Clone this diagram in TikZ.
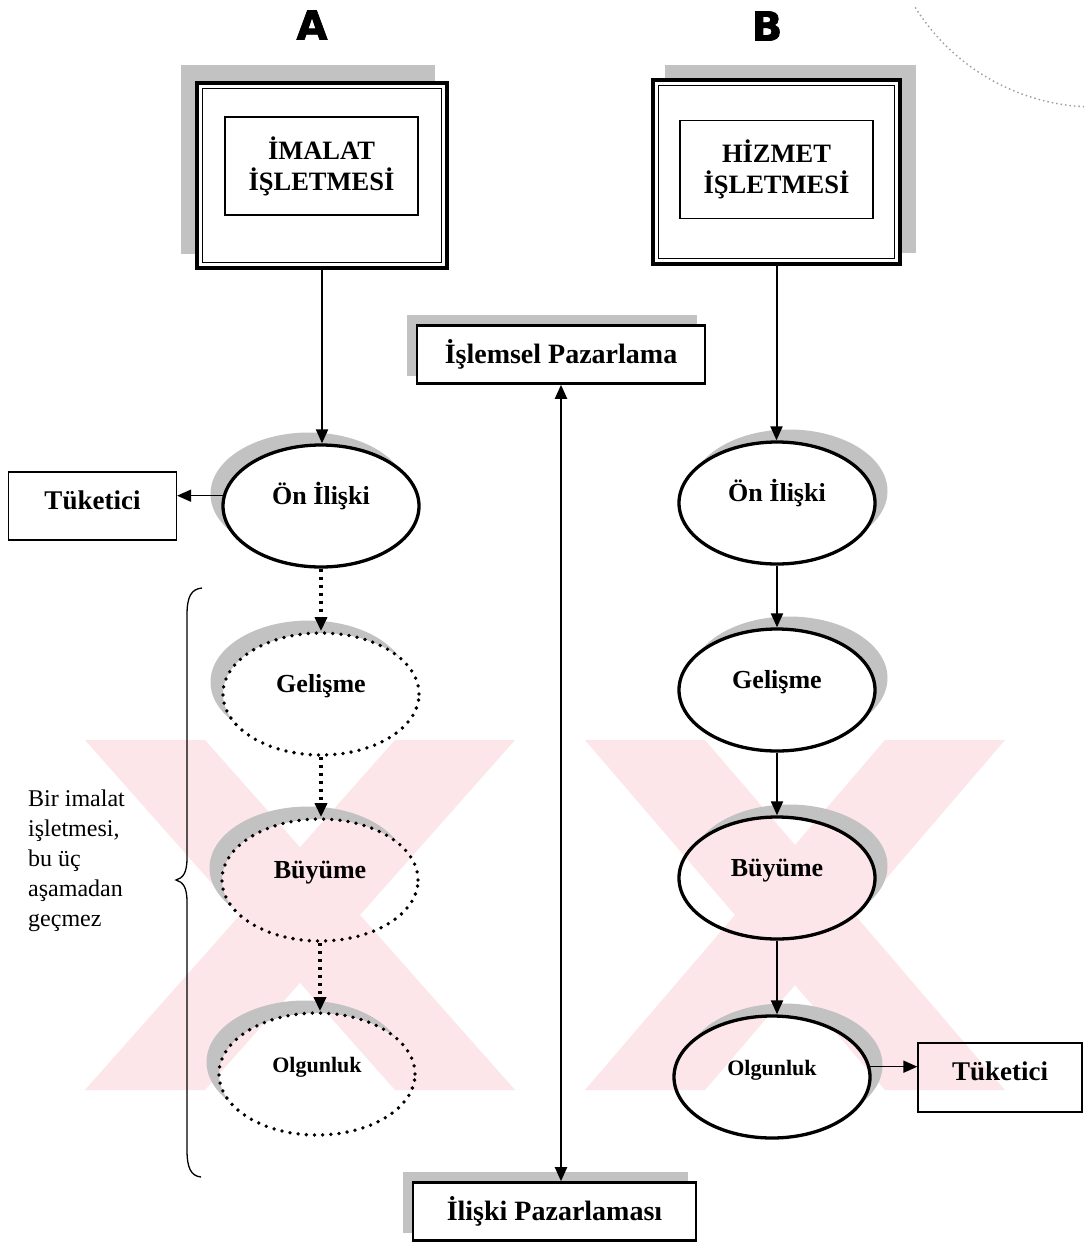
\documentclass[tikz,border=0pt]{standalone}
\usepackage{fontspec}
\setmainfont{Liberation Serif}
\newfontfamily\headfont[FakeBold=2]{DejaVu Sans}
\usetikzlibrary{arrows.meta,shapes.geometric,calc}

\definecolor{shadowc}{gray}{0.76}
\definecolor{wmark}{RGB}{252,230,233}
\definecolor{stampc}{gray}{0.62}

\pgfdeclarelayer{back}
\pgfsetlayers{back,main}

% crescent-shaped shadow behind an elliptic stage: node, x offset, y offset
\newcommand\stageshade[3]{%
  \begin{scope}
    \clip ($(#1.center)+(#2,#3)$) ellipse [x radius=98.5, y radius=61.5];
    \fill[shadowc, even odd rule]
      ($(#1.center)+(#2,#3)$) ellipse [x radius=101, y radius=64]
      (#1.center) ellipse [x radius=98, y radius=61];
  \end{scope}}

\tikzset{
  every node/.style={inner sep=0pt},
  tipTri/.style={-{Triangle[length=14pt,width=12pt]}},
  conn/.style={line width=2pt, tipTri},
  thinconn/.style={line width=1.5pt, tipTri},
  dotconn/.style={line width=3.4pt, dash pattern=on 3.4pt off 4.6pt, tipTri},
  stage/.style={ellipse, draw, line width=3.3pt, minimum width=196pt, minimum height=122pt,
    text height=16pt, text depth=20pt, font=\fontsize{26}{30}\selectfont\bfseries},
  dstage/.style={stage, line width=3.8pt, dash pattern=on 0pt off 8.2pt, line cap=round},
  smalltext/.style={font=\fontsize{22}{26}\selectfont\bfseries},
  frame/.style={draw, line width=3.2pt, fill=white, minimum width=250pt, minimum height=185pt},
  titlebox/.style={draw, line width=1.6pt, fill=white, minimum width=193pt, minimum height=98pt,
    align=center, font=\fontsize{26.5}{31}\selectfont\bfseries},
  mktbox/.style={draw, line width=2.6pt, fill=white, minimum height=58pt,
    font=\fontsize{28}{32}\selectfont\bfseries},
  consumer/.style={draw, line width=1.2pt, minimum width=168pt, minimum height=68pt,
    text depth=12pt, font=\fontsize{27}{32}\selectfont\bfseries},
  colhead/.style={font=\headfont\fontsize{40}{40}\selectfont\bfseries},
}

\begin{document}
\begin{tikzpicture}[x=1pt,y=-1pt]
\useasboundingbox (0,0) rectangle (1084,1243);

% column headings
\node[colhead] (hA) at (312,25) {A};
\node[colhead] (hB) at (767,26) {B};

% the two kinds of firm
\node[frame] (imalat) at (322,175.5) {};
\node[titlebox] (imalatT) at (321.5,166) {İMALAT\\İŞLETMESİ};
\node[frame, minimum width=247pt, minimum height=184pt] (hizmet) at (776.5,172) {};
\node[titlebox] (hizmetT) at (776.5,169.5) {HİZMET\\İŞLETMESİ};
\foreach \f in {imalat,hizmet}
  \draw[line width=1.3pt] ([shift={(7,7)}]\f.north west) rectangle ([shift={(-7,-7)}]\f.south east);

% the two marketing approaches
\node[mktbox, minimum width=288pt] (islemsel) at (561,354.5) {İşlemsel Pazarlama};
\node[mktbox, minimum width=283pt] (iliski) at (554.5,1211.5) {İlişki Pazarlaması};

% stages, column A
\node[stage] (onL) at (321,506) {Ön İlişki};
\node[dstage] (gelL) at (321,694) {Gelişme};
\node[dstage] (buyL) at (320,880) {Büyüme};
\node[dstage, smalltext] (olgL) at (317,1074) {Olgunluk};

% stages, column B
\node[stage] (onR) at (777,503) {Ön İlişki};
\node[stage] (gelR) at (777,690) {Gelişme};
\node[stage] (buyR) at (777,878) {Büyüme};
\node[stage, smalltext] (olgR) at (772,1077) {Olgunluk};

% consumers
\node[consumer] (tL) at (92.5,506) {Tüketici};
\node[consumer, minimum width=164pt, minimum height=69pt] (tR) at (1000,1077.5) {Tüketici};

% connectors, column A
\draw[conn] (imalat.south) -- (imalat.south |- onL.north);
\draw[thinconn] (onL.174) -- (onL.174 -| tL.east);
\draw[dotconn] (onL.south) -- (onL.south |- gelL.north);
\draw[dotconn] (gelL.south) -- (gelL.south |- buyL.north);
\draw[dotconn] (buyL.south) -- (buyL.south |- olgL.north);

% connectors, column B
\draw[conn] (hizmet.south) -- (hizmet.south |- onR.north);
\draw[conn] (onR.south) -- (onR.south |- gelR.north);
\draw[conn] (gelR.south) -- (gelR.south |- buyR.north);
\draw[conn] (buyR.south) -- (buyR.south |- olgR.north);
\draw[thinconn] (olgR.6) -- (olgR.6 -| tR.west);

% range between the two approaches
\draw[line width=2pt, {Triangle[length=14pt,width=12pt]}-{Triangle[length=14pt,width=12pt]}]
  (islemsel.south) -- (islemsel.south |- iliski.north);

% brace over the three skipped stages
\draw[line width=1.3pt] (202,588) .. controls (191,589) and (187,597) .. (187,615) -- (187,858)
  .. controls (187,873) and (183,878) .. (176,880)
  .. controls (183,882) and (187,887) .. (187,902) -- (187,1150)
  .. controls (187,1168) and (191,1176) .. (201,1177);
\node[anchor=north west, align=left, font=\fontsize{24}{30}\selectfont] (note) at (28,790)
  {Bir imalat\\işletmesi,\\bu üç\\aşamadan\\geçmez};

\begin{pgfonlayer}{back}
  \fill[white] (0,0) rectangle (1084,1243);
  % pale crossed bands in the lower half
  \fill[wmark] (85,740) -- (205,740) -- (515,1090) -- (395,1090) -- cycle;
  \fill[wmark] (395,740) -- (515,740) -- (205,1090) -- (85,1090) -- cycle;
  \fill[wmark] (585,740) -- (705,740) -- (1005,1090) -- (885,1090) -- cycle;
  \fill[wmark] (885,740) -- (1005,740) -- (705,1090) -- (585,1090) -- cycle;
  % box shadows
  \fill[shadowc] ([shift={(-14,-16)}]imalat.north west) rectangle ([shift={(-14,-16)}]imalat.south east);
  \fill[shadowc] ([shift={(14,-13)}]hizmet.north west) rectangle ([shift={(14,-13)}]hizmet.south east);
  \fill[shadowc] ([shift={(-9,-9)}]islemsel.north west) rectangle ([shift={(-9,-9)}]islemsel.south east);
  \fill[shadowc] ([shift={(-9,-9)}]iliski.north west) rectangle ([shift={(-9,-9)}]iliski.south east);
  % stage shadows
  \stageshade{onL}{-12}{-12}
  \stageshade{gelL}{-12}{-12}
  \stageshade{buyL}{-12}{-12}
  \stageshade{olgL}{-12}{-12}
  \stageshade{onR}{12}{-12}
  \stageshade{gelR}{12}{-12}
  \stageshade{buyR}{12}{-12}
  \stageshade{olgR}{12}{-12}
  % faint round stamp in the corner
  \draw[stampc, line width=1.4pt, dash pattern=on 1.5pt off 3pt]
    (1095,-105) ++(148:212) arc[start angle=148, end angle=93, radius=212];
\end{pgfonlayer}
\end{tikzpicture}
\end{document}
